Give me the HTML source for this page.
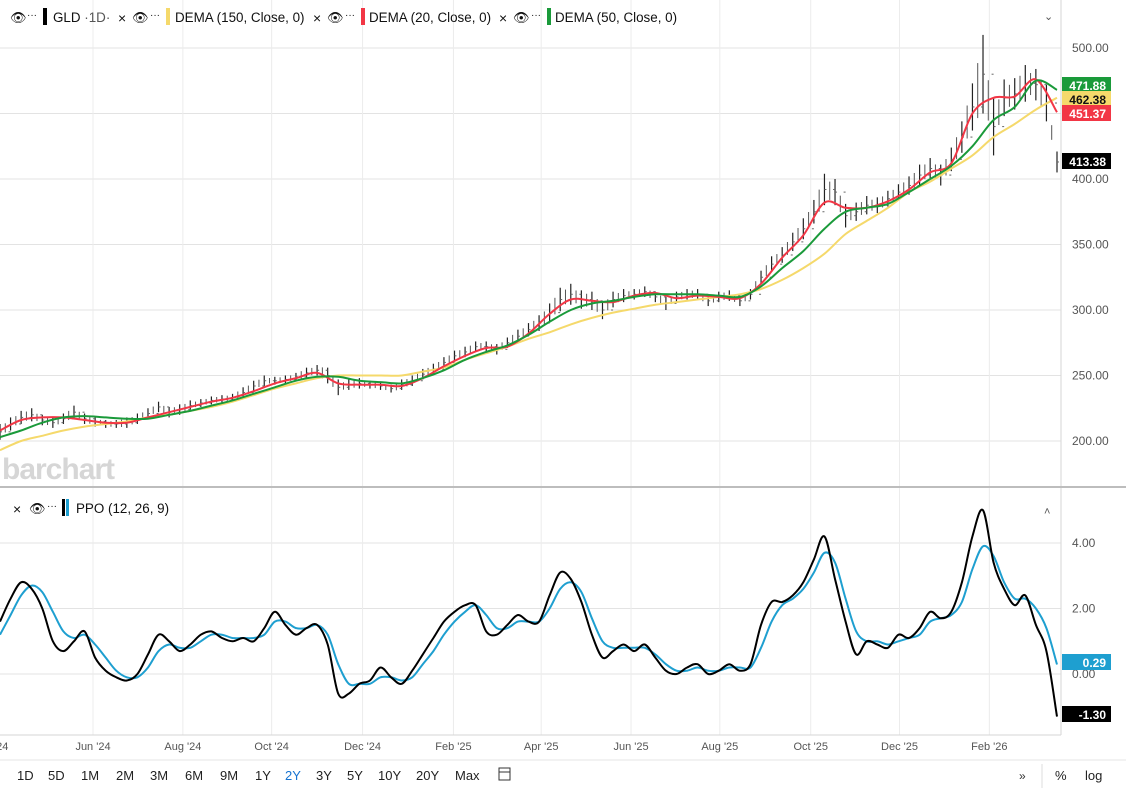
<!DOCTYPE html>
<html><head><meta charset="utf-8">
<style>
html,body{margin:0;padding:0;background:#fff;width:1126px;height:792px;overflow:hidden;font-family:"Liberation Sans",sans-serif;}
svg{display:block}
</style></head>
<body>
<svg id="chart" width="1126" height="792" viewBox="0 0 1126 792" xmlns="http://www.w3.org/2000/svg">
  <g id="grid"></g>
  <text x="2" y="479" font-size="30" font-weight="bold" fill="#d6d6d6" letter-spacing="-1">barchart</text>
  <g id="candles"></g>
  <g id="lines"></g>
  <g id="ppo"></g>
  <g id="axes"></g>
  <line x1="0" y1="487" x2="1126" y2="487" stroke="#bdbdbd" stroke-width="2"/>
  <g font-size="13.4" fill="#111">
    <text x="10" y="22" font-size="13">👁</text>
    <text x="27" y="18" font-size="10">···</text>
    <rect x="43" y="8" width="4" height="17" fill="#000"/>
    <text x="53" y="22">GLD <tspan fill="#555">·1D·</tspan></text>
    <text x="118" y="23" font-size="14">×</text>
    <text x="132" y="22" font-size="13">👁</text>
    <text x="150" y="18" font-size="10">···</text>
    <rect x="166" y="8" width="4" height="17" fill="#f5d96b"/>
    <text x="175" y="22">DEMA (150, Close, 0)</text>
    <text x="313" y="23" font-size="14">×</text>
    <text x="327" y="22" font-size="13">👁</text>
    <text x="345" y="18" font-size="10">···</text>
    <rect x="361" y="8" width="4" height="17" fill="#f23645"/>
    <text x="369" y="22">DEMA (20, Close, 0)</text>
    <text x="499" y="23" font-size="14">×</text>
    <text x="513" y="22" font-size="13">👁</text>
    <text x="531" y="18" font-size="10">···</text>
    <rect x="547" y="8" width="4" height="17" fill="#1a9a3a"/>
    <text x="555" y="22">DEMA (50, Close, 0)</text>
  </g>
  <text x="1044" y="20" font-size="11" fill="#555">⌄</text>
  <g font-size="13.4" fill="#111">
    <text x="13" y="514" font-size="14">×</text>
    <text x="29" y="513" font-size="13">👁</text>
    <text x="47" y="509" font-size="10">···</text>
    <rect x="62" y="499" width="3" height="17" fill="#000"/>
    <rect x="66" y="499" width="3" height="17" fill="#1e9fd0"/>
    <text x="76" y="513">PPO (12, 26, 9)</text>
  </g>
  <text x="1044" y="515" font-size="11" fill="#555">˄</text>
  <line x1="0" y1="760" x2="1126" y2="760" stroke="#e6e6e6"/>
  <g id="toolbar" font-size="13" fill="#222"></g>
  <rect x="499" y="768" width="11" height="12" fill="none" stroke="#333"/>
  <line x1="499" y1="772" x2="510" y2="772" stroke="#333"/>
  <text x="1019" y="780" font-size="12" fill="#333">»</text>
  <line x1="1042" y1="764" x2="1042" y2="788" stroke="#ddd"/>
  <text x="1055" y="780" font-size="13" fill="#222">%</text>
  <text x="1085" y="780" font-size="13" fill="#222">log</text>
</svg>
<script>
const closes=[207,213,218,220,216,214,217,222,217,215,213,213,214,217,221,226,222,224,227,229,231,232,233,237,242,246,246,247,249,252,254,250,241,243,244,243,242,240,243,246,251,255,260,265,268,272,272,270,275,280,285,290,298,308,312,308,307,300,308,311,312,314,310,305,310,312,312,307,310,311,307,312,325,335,342,352,362,375,392,390,372,375,380,380,385,390,395,403,408,403,415,432,455,480,440,462,465,473,472,458,413];
const ranges=[6,5,5,5,4,4,4,5,4,4,3,3,4,4,4,4,4,4,4,3,3,3,3,4,4,4,3,3,3,4,4,6,6,4,4,3,3,3,4,4,4,4,4,4,4,4,4,4,4,5,5,6,7,9,8,7,7,7,6,5,4,4,4,5,4,4,4,4,4,4,4,4,5,6,6,7,8,9,12,10,9,7,7,6,6,6,7,8,8,8,9,12,18,30,22,14,12,14,12,14,8];
const dema150=[193,200,204,208,211,213,215,218,220,223,226,230,235,240,244,248,250,250,250,250,253,256,262,267,272,278,283,289,294,298,301,304,306,308,310,312,316,323,332,343,358,368,378,390,398,408,418,432,442,453,462];
const dema50=[203,208,214,218,219,218,217,217,220,223,227,231,236,241,246,249,249,246,245,244,248,254,262,268,273,281,291,300,305,307,310,312,312,312,311,310,318,332,345,362,375,378,381,390,400,410,425,445,455,475,468];
const dema20=[208,216,218,218,216,214,214,218,222,226,230,233,238,244,248,252,244,243,243,242,248,257,265,271,272,282,297,308,307,306,311,313,309,311,310,309,320,340,357,382,378,378,383,392,405,412,450,462,463,476,451];
const ppo=[1.6,2.3,2.8,2.6,2.0,1.0,0.7,1.0,1.3,0.5,0.1,-0.1,-0.2,0.0,0.6,1.2,1.0,0.7,0.9,1.2,1.3,1.1,1.0,1.1,1.0,1.4,1.9,1.5,1.2,1.4,1.5,0.9,-0.6,-0.6,-0.3,-0.2,0.2,-0.1,-0.3,0.1,0.6,1.1,1.6,1.9,2.1,2.1,1.3,1.2,1.5,1.8,1.6,1.6,2.4,3.1,2.9,2.2,1.2,0.5,0.7,0.9,0.7,0.9,0.5,0.1,0.0,0.2,0.3,0.0,0.1,0.3,0.1,0.3,1.5,2.2,2.2,2.4,2.8,3.5,4.2,2.9,1.6,0.6,1.0,0.9,0.8,1.2,1.1,1.4,1.9,1.7,1.9,2.8,4.2,5.0,3.4,2.6,2.1,2.4,1.5,0.7,-1.3];
const signal=[1.2,1.8,2.4,2.7,2.5,1.9,1.3,1.1,1.2,0.9,0.5,0.1,-0.1,-0.1,0.2,0.7,0.9,0.8,0.8,1.0,1.2,1.2,1.1,1.1,1.1,1.2,1.6,1.6,1.4,1.4,1.5,1.2,0.3,-0.3,-0.3,-0.3,-0.1,-0.1,-0.2,-0.1,0.3,0.7,1.2,1.6,1.9,2.1,1.8,1.4,1.4,1.6,1.6,1.6,2.0,2.6,2.8,2.5,1.7,1.0,0.8,0.8,0.8,0.8,0.6,0.3,0.1,0.1,0.2,0.1,0.1,0.2,0.2,0.2,0.8,1.6,2.1,2.3,2.6,3.1,3.7,3.4,2.3,1.3,1.0,1.0,0.9,1.0,1.1,1.2,1.6,1.7,1.8,2.2,3.2,3.9,3.6,2.8,2.3,2.3,2.0,1.4,0.29];
const priceTicks=[200,250,300,350,400,450,500];
const ppoTicks=[0,2,4];
const monthLabels=["Jun '24","Aug '24","Oct '24","Dec '24","Feb '25","Apr '25","Jun '25","Aug '25","Oct '25","Dec '25","Feb '26"];
const monthWeeks=[8.8,17.3,25.7,34.3,42.9,51.2,59.7,68.1,76.7,85.1,93.6];
const lastVals={dema50:471.88,dema150:462.38,dema20:451.37,close:413.38,signal:0.29,ppo:-1.30};
const ranges2=["1D","5D","1M","2M","3M","6M","9M","1Y","2Y","3Y","5Y","10Y","20Y","Max"];

const NS="http://www.w3.org/2000/svg";
const PLOT_R=1061;
const xW=i=>i*10.57;
const yP=v=>48+(500-v)*1.31;
const yO=v=>674-v*32.75;
function mk(tag,attrs,parent){const e=document.createElementNS(NS,tag);for(const k in attrs)e.setAttribute(k,attrs[k]);parent.appendChild(e);return e;}
const grid=document.getElementById('grid'),axes=document.getElementById('axes');
priceTicks.forEach(v=>{
  const l=mk('line',{x1:0,x2:PLOT_R,y1:yP(v),y2:yP(v),stroke:'#e3e3e3'},grid);
  
  
  const t=mk('text',{x:1072,y:yP(v)+4,'font-size':12,fill:'#555'},axes);
  t.textContent=v.toFixed(2);
  
  
});
ppoTicks.forEach(v=>{
  const l=mk('line',{x1:0,x2:PLOT_R,y1:yO(v),y2:yO(v),stroke:'#e3e3e3'},grid);
  
  
  const t=mk('text',{x:1072,y:yO(v)+4,'font-size':12,fill:'#555'},axes);
  t.textContent=v.toFixed(2);
  
  
});
monthWeeks.forEach((w,i)=>{
  const l=mk('line',{x1:xW(w),x2:xW(w),y1:0,y2:735,stroke:'#ececec'},grid);
  
  
  const t=mk('text',{x:xW(w),y:750,'font-size':11,fill:'#555','text-anchor':'middle'},axes);
  t.textContent=monthLabels[i];
  
  
});
{const t=mk('text',{x:-6,y:750,'font-size':11,fill:'#555'},axes);t.textContent="'24";

}
mk('line',{x1:PLOT_R,x2:PLOT_R,y1:0,y2:735,stroke:'#d6d6d6'},grid);
mk('line',{x1:0,x2:PLOT_R,y1:735,y2:735,stroke:'#d6d6d6'},grid);

const cg=document.getElementById('candles');
closes.forEach((c,i)=>{
  const r=ranges[i];const x=xW(i);
  const b=mk('line',{x1:x,x2:x,y1:yP(c+r),y2:yP(c-r),stroke:'#222','stroke-width':1.2},cg);
  
  
  const prev=i>0?closes[i-1]:c;
  mk('line',{x1:x-2,x2:x,y1:yP(prev),y2:yP(prev),stroke:'#666','stroke-width':1},cg);
  mk('line',{x1:x,x2:x+2,y1:yP(c),y2:yP(c),stroke:'#666','stroke-width':1},cg);
  if(i>0){const xm=x-5.3;const m=(prev+c)/2;
    mk('line',{x1:xm,x2:xm,y1:yP(m+r*0.7),y2:yP(m-r*0.7),stroke:'#555','stroke-width':1},cg);}
});

function smooth(arr,xf,yf){
  const p=arr.map((v,i)=>[xf(i),yf(v)]);
  let d='M'+p[0][0].toFixed(1)+','+p[0][1].toFixed(1);
  for(let i=0;i<p.length-1;i++){
    const p0=p[i-1]||p[i],p1=p[i],p2=p[i+1],p3=p[i+2]||p2;
    const c1=[p1[0]+(p2[0]-p0[0])/6,p1[1]+(p2[1]-p0[1])/6];
    const c2=[p2[0]-(p3[0]-p1[0])/6,p2[1]-(p3[1]-p1[1])/6];
    d+='C'+c1.map(n=>n.toFixed(1))+' '+c2.map(n=>n.toFixed(1))+' '+p2[0].toFixed(1)+','+p2[1].toFixed(1);
  }
  return d;
}
const lg=document.getElementById('lines');
const x2=i=>xW(i*2);
[[dema150,'#f5d96b','dema150-line'],[dema20,'#f23645','dema20-line'],[dema50,'#1a9a3a','dema50-line']].forEach(([a,c,n])=>{
  const p=mk('path',{d:smooth(a,x2,yP),fill:'none',stroke:c,'stroke-width':2,'stroke-linejoin':'round'},lg);
  
  
});
const pg=document.getElementById('ppo');
[[signal,'#1e9fd0','signal-line'],[ppo,'#000','ppo-line']].forEach(([a,c,n])=>{
  const p=mk('path',{d:smooth(a,xW,yO),fill:'none',stroke:c,'stroke-width':2,'stroke-linejoin':'round'},pg);
  
  
});

function badge(y,txt,bg,fg,name){
  const g=mk('g',{},axes);
  
  
  mk('rect',{x:1062,y:y-8,width:49,height:16,fill:bg},g);
  const t=mk('text',{x:1106,y:y+5,'font-size':12,'font-weight':'bold',fill:fg,'text-anchor':'end'},g);
  t.textContent=txt;
}
badge(85,lastVals.dema50.toFixed(2),'#1a9a3a','#fff','dema50-badge');
badge(99,lastVals.dema150.toFixed(2),'#f5d96b','#111','dema150-badge');
badge(113,lastVals.dema20.toFixed(2),'#f23645','#fff','dema20-badge');
badge(161,lastVals.close.toFixed(2),'#000','#fff','last-price-badge');
badge(662,lastVals.signal.toFixed(2),'#1e9fd0','#fff','signal-badge');
badge(714,lastVals.ppo.toFixed(2),'#000','#fff','ppo-badge');

const tb=document.getElementById('toolbar');
const tx=[17,48,81,116,150,185,220,255,285,316,347,378,416,455];
ranges2.forEach((r,i)=>{
  const t=mk('text',{x:tx[i],y:780,fill:r==='2Y'?'#1673d1':'#222'},tb);
  t.textContent=r;
  
  
});
</script>
</body></html>
